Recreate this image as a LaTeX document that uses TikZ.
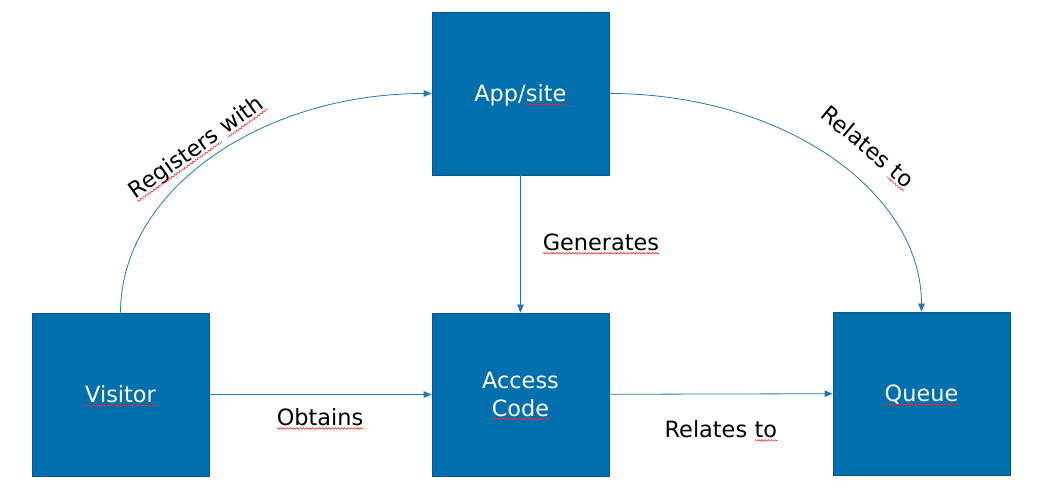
\documentclass[tikz,border=0pt]{standalone}
\usepackage{fontspec}
\setmainfont{DejaVu Sans}
\usepackage{tikz}
\usetikzlibrary{arrows.meta,decorations.pathmorphing}
\definecolor{boxblue}{RGB}{0,111,173}
\definecolor{boxedge}{RGB}{10,85,135}
\definecolor{lineblue}{RGB}{35,120,180}
\newcommand\spell[1]{\tikz[baseline=(sw.base)]{\node[inner sep=0pt, outer sep=0pt, minimum width=0pt, minimum height=0pt, text height=, text depth=, draw=none, fill=none] (sw) {#1};
  \draw[red!85, line width=0.6pt, decorate, decoration={snake, amplitude=0.8pt, segment length=3.2pt}] ([yshift=-3pt]sw.base west) -- ([yshift=-3pt]sw.base east);}}

\begin{document}
\begin{tikzpicture}[x=1pt,y=1pt,
            box/.style={rectangle, draw=boxedge, line width=0.8pt, fill=boxblue, minimum width=177pt, minimum height=163pt, text=white, align=center, text height=16pt, text depth=0pt, font=\fontsize{22.4}{27}\selectfont},
            arrow/.style={-{Triangle[length=8pt,width=6.5pt]}, draw=lineblue, line width=0.8pt},
            lbl/.style={font=\fontsize{22.4}{27}\selectfont, inner sep=0pt}
            ]
            \useasboundingbox (0,0) rectangle (1039,490);

            % Main boxes
            \node[box] (app) at (520.5,396.5) {App/\spell{site}};
            \node[box] (visitor) at (120.5,95.5) {\spell{Visitor}};
            \node[box, text height=43pt] (access) at (520.5,95.5) {Access\\\spell{Code}};
            \node[box] (queue) at (921.5,96.5) {\spell{Queue}};

            % Curved arrows
            \draw[arrow] (visitor.north) .. controls +(0,121) and +(-172,0) .. (app.west);
            \draw[arrow] (app.east) .. controls +(172,0) and +(0,121) .. (queue.north);

            % Straight arrows
            \draw[arrow] (app) -- (access);
            \draw[arrow] (visitor) -- (access);
            \draw[arrow] (access) -- (queue);

            % Labels
            \node[lbl, rotate=35.5] (reglbl) at (197,342) {\spell{Registers} \spell{with}};
            \node[lbl, rotate=-40] (rellbl) at (867,342) {Relates \spell{to}};
            \node[lbl] (genlbl) at (601,246) {\spell{Generates}};
            \node[lbl] (oblbl) at (320,71) {\spell{Obtains}};
            \node[lbl] (rel2lbl) at (721,59) {Relates \spell{to}};

        \end{tikzpicture}
\end{document}
